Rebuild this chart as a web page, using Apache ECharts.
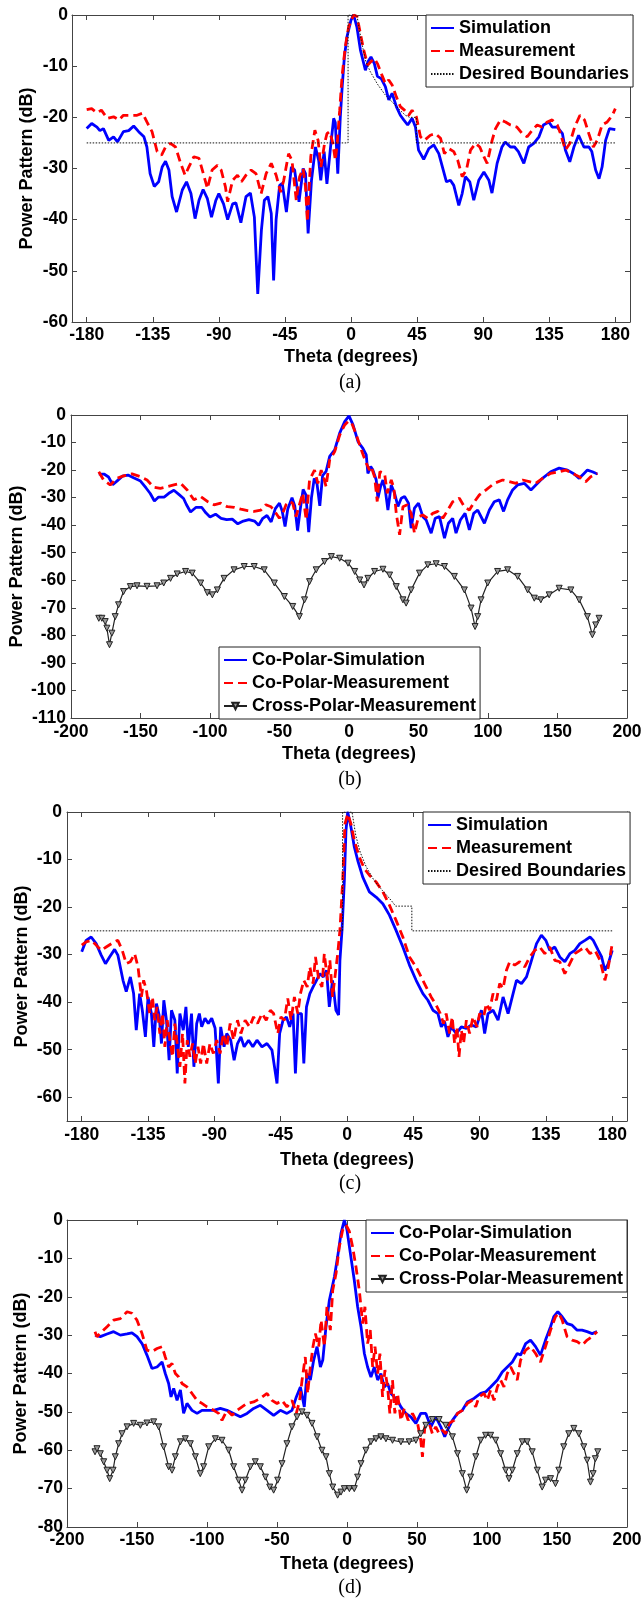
<!DOCTYPE html>
<html><head><meta charset="utf-8">
<script src="https://cdn.jsdelivr.net/npm/echarts@6/dist/echarts.min.js"></script>
<style>html,body{margin:0;padding:0;background:#fff}#c{width:642px;height:1600px}</style>
</head><body><div id="c"></div>
<script>
// ---------- tick labels ----------
const X_TICKS_45 = [-180,-135,-90,-45,0,45,90,135,180];
const Y_TICKS_C = [-60,-50,-40,-30,-20,-10,0];

// ---------- legend names ----------
const NAMES_AC = ['Simulation','Measurement','Desired Boundaries'];
const NAMES_BD = ['Co-Polar-Simulation','Co-Polar-Measurement','Cross-Polar-Measurement'];

// ---------- panel (a) ----------
const A_SIM = [[-180,-22.2],[-176.6,-21.2],[-173,-21.9],[-171,-22.6],[-168.6,-22.2],[-165,-24.5],[-161.7,-23.8],[-159,-24.8],[-155,-22.8],[-151.4,-22.6],[-148,-21.7],[-144.6,-22.8],[-141,-23.8],[-139,-25.8],[-136.8,-31],[-134,-33.5],[-131,-32.6],[-128.6,-29.7],[-126.3,-28.6],[-124,-30.3],[-121.8,-35.5],[-118.8,-38.5],[-114.9,-34.2],[-112,-32.6],[-109,-34.9],[-106.2,-39.8],[-103.5,-36.2],[-100.7,-34.1],[-97.8,-35.9],[-95,-39.5],[-92,-36.2],[-90,-34.9],[-86.8,-36.9],[-84,-40],[-80.6,-36.9],[-78.4,-36.7],[-75,-40.6],[-71.5,-35.5],[-68.5,-34.8],[-65.8,-39.5],[-63.5,-54.5],[-61,-42],[-59,-36.2],[-56.6,-35.5],[-54.3,-38.8],[-52.7,-51.9],[-51,-40],[-48.6,-33.3],[-46.8,-32.9],[-44,-38.5],[-40.6,-29.7],[-38.4,-30.3],[-35.4,-36.5],[-32.6,-30],[-31,-31],[-29.2,-42.7],[-26.9,-32.3],[-24.2,-25.8],[-22,-28.4],[-20.6,-32.3],[-18.3,-26.7],[-16.4,-33],[-14,-26],[-11.8,-20.2],[-10.7,-21],[-9,-31],[-7.3,-20],[-6,-14],[-4.5,-8.2],[-2.7,-4.2],[0,-1],[1.8,0],[4,-2.3],[6.4,-6.8],[9.8,-10.8],[11.6,-9.1],[13.6,-8.2],[15.9,-9.5],[18,-12],[20.5,-12.4],[23.4,-14],[25.7,-16.6],[28,-15.3],[30.9,-17.9],[33.6,-19.6],[35.9,-20.5],[38.6,-21.5],[41.6,-20.2],[43.9,-21.9],[46,-26.4],[49.5,-28.2],[53,-26.1],[56.4,-25.4],[59.8,-27.1],[65,-32.6],[67.7,-32.3],[70,-33.3],[73.4,-37.2],[75.7,-34.9],[77.9,-31.6],[80.9,-32.6],[83.6,-36.2],[87,-32.3],[90.5,-30.7],[93.9,-32.3],[96,-34.8],[99.5,-29],[102.8,-25.8],[105,-24.8],[108.6,-25.8],[111.4,-25.8],[114,-26.7],[117.7,-29],[121,-25.8],[124.5,-25.1],[128,-23.8],[131,-21.5],[134.8,-20.9],[137,-21.9],[140.5,-21.9],[144,-23.2],[146,-26.4],[149,-28.7],[151.8,-25.8],[155,-23.5],[158.6,-25.8],[162,-25.8],[164,-26.7],[166.6,-30.3],[168.9,-32],[171,-29.7],[173.4,-24.5],[176,-22.2],[180,-22.4]];
const A_MEAS = [[-180,-18.5],[-176.6,-18.3],[-173,-19.1],[-170,-18.6],[-166,-20.2],[-161.7,-19.9],[-158,-20.5],[-155,-19.6],[-150,-19.6],[-145.7,-19.6],[-142,-19.2],[-139,-20.9],[-135.5,-22.8],[-132,-26.7],[-129,-27.4],[-126.3,-25.8],[-122.9,-25.1],[-119.5,-25.8],[-116,-29],[-113,-31.3],[-110.4,-29.7],[-107,-27.7],[-103.5,-28],[-100,-31.6],[-97.8,-33.9],[-94.6,-30.3],[-91,-29.4],[-88.4,-30.3],[-85.5,-33.6],[-84,-36.5],[-80.6,-32.3],[-77.3,-31.3],[-74.6,-32.6],[-71.5,-31.3],[-68,-30.3],[-64.7,-31],[-61.2,-34.9],[-57.8,-31],[-54.3,-29],[-51,-31.3],[-48,-34.6],[-45.8,-32.3],[-42.5,-27.1],[-40.2,-28.4],[-37.3,-36.2],[-35,-31.6],[-32.6,-30],[-31,-33.5],[-29.7,-40.4],[-27.4,-27.7],[-24.6,-22.5],[-22.4,-24.5],[-20.5,-29.7],[-18,-25.1],[-16.4,-23.2],[-14.5,-22.8],[-12.3,-25.1],[-10.7,-28.4],[-9.5,-25.5],[-7.7,-18.6],[-6.1,-12],[-3.9,-6.2],[-1.6,-2.3],[1.8,0],[4.1,-0.3],[6.4,-3.6],[8.6,-6.8],[11.4,-9.8],[13.6,-9.1],[15.9,-8.5],[18,-9.5],[21,-11.7],[23.4,-13.4],[25.7,-12.7],[28,-13.7],[30.9,-16],[33.6,-17.9],[36.4,-18.6],[39.3,-19.6],[41.6,-18.6],[44.5,-19.9],[47.3,-23.8],[50,-24.5],[54,-23.5],[57.5,-23.2],[61,-24.1],[63.6,-27.1],[66.6,-26.1],[70,-26.7],[72.7,-28.4],[75.7,-31.6],[78.6,-30.3],[81.4,-26.4],[84.8,-25.1],[87.7,-25.8],[90.5,-27.7],[92.7,-29],[96.1,-24.5],[98.4,-22.2],[101.8,-20.5],[105.2,-20.9],[108.6,-21.5],[113,-21.9],[116.6,-23.2],[120,-23.8],[123.4,-22.5],[126.8,-21.5],[130,-21.9],[133.6,-20.9],[137,-20.5],[140.5,-21.5],[142.7,-23.2],[146,-26.4],[149,-25.1],[152.3,-21.9],[155.9,-19.6],[159,-20.5],[162,-23.2],[165,-25.8],[167.7,-24.5],[171,-21.5],[174.5,-20.9],[178,-19.6],[180,-18.3]];
const A_DESIRED = [[-180,-25],[-2,-25],[-2,0],[4,0],[7,-5],[10,-9],[13,-11],[18,-13.5],[23,-15.5],[28,-17],[33,-18.5],[37,-19.6],[40,-20],[44.5,-20],[44.5,-25],[180,-25]];

// ---------- panel (b) ----------
const B_SIM = [[-180,-21.5],[-176,-21.5],[-173,-22.5],[-170,-25.3],[-167,-24],[-163,-22.2],[-159,-21.8],[-155,-22.8],[-150,-24],[-146,-26.5],[-143,-28.5],[-140,-31.2],[-137,-29.8],[-133,-29.8],[-129,-28.2],[-126,-27.3],[-122,-29],[-119,-30.3],[-117,-32.5],[-114,-35.2],[-110,-33.5],[-106,-33.5],[-103,-35.5],[-100,-37],[-96,-36],[-92,-37.5],[-88,-38],[-84,-37.8],[-80,-39.5],[-76,-38.5],[-72,-38],[-68,-38.5],[-65,-40],[-62,-37.5],[-59,-36.5],[-56,-38.8],[-53,-34],[-50,-32],[-48,-35],[-46,-40.5],[-44,-34],[-41,-30],[-39,-33],[-37,-42],[-35,-34],[-33,-27],[-31,-29],[-29,-42.5],[-27,-30],[-25,-23],[-23,-25],[-21,-33],[-19,-22],[-16.5,-20.5],[-13.9,-15],[-10.3,-12.7],[-6.7,-6.6],[-3.1,-2.4],[0,-0.3],[2.9,-3.6],[6.5,-9.7],[10,-12.1],[12.4,-14.5],[13.6,-21.2],[15.6,-18.7],[17.2,-20],[19.6,-23.6],[20.8,-30.2],[22.7,-26],[24.4,-23.6],[26.1,-27.2],[28,-34.5],[30.4,-25.4],[32.8,-28.4],[35.2,-33.2],[37.6,-30.2],[40,-29.6],[42.8,-32],[44.7,-41.1],[47.1,-33.8],[50,-32],[53.1,-36.9],[55.5,-38.1],[59.1,-42.9],[62,-37.5],[65.1,-36.9],[68.7,-44.7],[71.5,-39.3],[74.6,-37.5],[77,-42.9],[80.1,-38.1],[83.5,-35.7],[86.6,-41.7],[89.7,-35.7],[92.6,-34.5],[97.4,-39.3],[101,-34.5],[104.5,-31.5],[108.1,-30.8],[111.2,-35],[114.1,-30.8],[117.7,-27.2],[121.3,-25.4],[126.1,-24.8],[130.9,-27.2],[134.4,-25.4],[139.2,-23],[145.1,-20.6],[151.2,-19.3],[157.2,-20],[162,-21.4],[165.6,-23],[169.1,-21.2],[171.5,-20],[175.1,-20.6],[178.7,-21.4]];
const B_MEAS = [[-180,-20.6],[-176.6,-23.6],[-171.8,-25.4],[-167,-23],[-162.2,-22.1],[-156.1,-21.4],[-150.1,-22.4],[-145.3,-23.6],[-140.5,-26.2],[-135.7,-26.6],[-130.8,-26],[-126,-25.4],[-121.2,-24.8],[-116.4,-27.2],[-111.6,-30.8],[-106.7,-29.6],[-101.9,-31.4],[-97.1,-32.6],[-92.3,-32],[-87.5,-33.3],[-82.7,-33.5],[-77.8,-34.2],[-73,-34.7],[-68.2,-35],[-63.4,-34.5],[-59.8,-32.6],[-56.1,-33.3],[-52.5,-35.7],[-50.1,-37.5],[-47.7,-35.7],[-45.3,-32.6],[-42.9,-31.4],[-40.5,-32],[-38.1,-36.9],[-35.7,-32.6],[-33.3,-28.4],[-30.8,-38.1],[-28.4,-23.6],[-24.8,-20],[-22.4,-24.8],[-20,-20],[-18,-23],[-16.5,-26],[-13.9,-16.3],[-10.3,-13.3],[-6.7,-7.3],[-3.1,-3.6],[-0.7,-2.4],[1.7,-2.6],[5.3,-7.3],[8.9,-12.7],[12.4,-17.5],[14.8,-20],[16,-18.8],[18.4,-22.4],[20.3,-31.4],[22.2,-20.6],[25.6,-21.2],[27.5,-28.4],[30.4,-23.6],[32.3,-26.6],[34,-35.7],[36.4,-43.5],[38.8,-33.3],[41.9,-32.6],[44.7,-35.7],[47.1,-42.9],[50,-36.9],[53.1,-36.3],[56.7,-37.5],[60.3,-35.7],[63.9,-35],[67.5,-37.5],[71.1,-34.5],[74.6,-31.5],[79.4,-30.2],[83,-33.3],[86.6,-34.5],[90.2,-31.5],[93.8,-29],[98.6,-27.2],[104.5,-24.8],[110.5,-23.6],[115.3,-24.2],[120.1,-24.8],[124.9,-23.6],[129.7,-24.2],[134.4,-24.8],[139.2,-23],[145.1,-21.2],[151.2,-20.6],[155.9,-20],[160.8,-21.2],[165.6,-22.4],[170.3,-24.2],[173.9,-22.4],[178.7,-21.2]];
const B_CROSS = [[-180,-73.8],[-177.8,-73.8],[-175.4,-75],[-174.2,-77.4],[-172.3,-83.4],[-170.6,-79.2],[-168.2,-73.2],[-165.8,-68.9],[-162.2,-64.1],[-157.3,-62.3],[-152.5,-62],[-145.3,-62.2],[-138.1,-62],[-133.3,-61],[-128.4,-59.3],[-123.6,-57.7],[-117.6,-56.8],[-112.8,-57.4],[-106.7,-61],[-101.9,-64.5],[-98.3,-65.3],[-94.7,-63.5],[-89.9,-59.3],[-82.7,-56.2],[-75.4,-55],[-68.2,-55],[-61,-56.2],[-53.7,-61],[-46.5,-65.9],[-40.5,-69.5],[-35.7,-73.2],[-32,-67.1],[-28.4,-60.5],[-23.6,-56.2],[-17.6,-53.2],[-12.7,-51.4],[-6.7,-52],[-0.7,-53.8],[4.1,-56.8],[7.7,-59.9],[10.8,-61.7],[13.6,-59.3],[18.4,-56.8],[24.4,-56],[29.2,-58.1],[34,-62.3],[38.8,-67.1],[41.1,-68.3],[44.7,-63.5],[50.7,-57.4],[56.7,-54.4],[62.7,-54],[68.7,-55],[75.8,-58.6],[83,-63.5],[87.8,-70.1],[90.7,-76.8],[92.6,-73.2],[95,-67.1],[99.8,-61],[106.9,-56.8],[114.1,-56.2],[121.3,-58.6],[128.5,-63.5],[133.3,-66.5],[138,-67.1],[144,-65.3],[151.2,-62.9],[159.6,-63.5],[165.6,-67.1],[171.5,-73.2],[175.1,-79.8],[177.5,-76.2],[179.9,-73.8]];

// ---------- panel (c) ----------
const C_SIM = [[-180,-29.4],[-177,-27],[-173.6,-26.3],[-170.2,-27.7],[-166.8,-30.1],[-163.9,-31.9],[-161.1,-30.5],[-157.7,-28.9],[-155.5,-30.1],[-152,-35.4],[-149.8,-37.8],[-147,-34.7],[-144.8,-38.2],[-143,-45.9],[-140.7,-38.2],[-138.9,-41.7],[-136.8,-47.3],[-135,-38.9],[-132.7,-42.4],[-131.1,-49.4],[-129.3,-40.3],[-127.5,-42.7],[-125.9,-48.7],[-124.3,-39.6],[-122.5,-43.8],[-120.7,-52.2],[-119.1,-41.7],[-116.8,-43.8],[-115.2,-55],[-113.4,-42.4],[-111.1,-45.9],[-109.3,-41],[-107.7,-49.4],[-105.5,-42.4],[-103.9,-53.6],[-102,-44.5],[-100.2,-42.4],[-98.6,-45.2],[-96.4,-43.4],[-94.1,-44.5],[-91.8,-43.4],[-89.5,-45.5],[-87.3,-57.1],[-85.7,-45.2],[-83.4,-49.4],[-81.6,-46.6],[-78.9,-48],[-76.6,-52.2],[-74.3,-48.7],[-72,-47.3],[-69.8,-49.4],[-66.8,-48],[-63.9,-49.4],[-61.1,-48],[-57.7,-49.4],[-54.3,-48.7],[-50.9,-50.1],[-47.5,-57.1],[-45.7,-46.6],[-43.4,-43.8],[-41.1,-43.1],[-38.9,-45.2],[-36.6,-42.4],[-35,-55],[-33.2,-42.4],[-30.9,-42.4],[-29.3,-52.9],[-27.5,-41],[-25.2,-38.2],[-23,-36.8],[-20.7,-35.4],[-18.4,-34],[-16.1,-34.7],[-13.9,-33.3],[-12,-41],[-9.8,-35.4],[-7.5,-41.7],[-5.7,-42.7],[-4.8,-31.2],[-3.4,-24.9],[-1.8,-14.4],[-0.7,-3.9],[0.5,0],[2.7,-3.2],[5,-7.4],[7.3,-10.2],[10.7,-13.7],[15.2,-16.8],[19.7,-17.9],[24.3,-19.3],[28.8,-21.7],[33.3,-24.9],[37.9,-28.4],[42.4,-32.2],[46.9,-35.4],[51.5,-38.2],[54.9,-39.6],[58.3,-41.7],[61.7,-42.4],[64,-45.2],[66.2,-44.1],[68.5,-47.3],[70.7,-45.2],[74.1,-46.6],[77.6,-45.2],[81,-45.5],[84.4,-44.8],[87.8,-45.2],[91.2,-41.7],[93.4,-46.6],[95.7,-42.4],[99.1,-41.7],[102.5,-43.8],[105.9,-38.9],[109.3,-42.4],[112.7,-38.2],[115,-35.4],[118.4,-36.1],[121.8,-34.7],[125.2,-31.2],[128.6,-27.7],[131.9,-25.9],[134.9,-27],[137.6,-29.1],[141,-28.4],[144.4,-30.5],[147.8,-31.5],[151.2,-29.8],[154.6,-29.1],[158,-27.7],[161.5,-27],[164.9,-26.3],[167.1,-27],[170.5,-29.1],[172.8,-30.5],[175,-33.3],[177.3,-31.9],[180,-29.1]];
const C_MEAS = [[-180,-28],[-177,-27.3],[-173.6,-27],[-170.2,-28],[-166.8,-29.1],[-163.4,-28.4],[-158.9,-27.5],[-155.5,-27],[-152.5,-29.1],[-149.8,-31.9],[-147,-31.5],[-144.1,-29.8],[-141.8,-32.6],[-139.5,-38.9],[-138,-35.4],[-136.1,-37.5],[-133.9,-42.4],[-132,-38.9],[-130.5,-43.8],[-128.9,-41],[-127,-46.6],[-125.2,-42.4],[-123.6,-49.4],[-122,-43.8],[-120.2,-48],[-118.4,-51.5],[-116.8,-44.5],[-115,-49.4],[-113.4,-53.6],[-111.6,-46.6],[-110,-57.1],[-108.4,-48],[-106.6,-51.5],[-104.8,-48.7],[-103,-52.9],[-101.1,-49.4],[-99.3,-52.9],[-97.5,-48.7],[-95.2,-52.9],[-93,-48.7],[-90.7,-50.8],[-88.4,-48],[-86.1,-50.8],[-83.9,-46.6],[-81.6,-49.4],[-79.3,-44.5],[-77,-48],[-74.3,-43.8],[-72,-46.6],[-69.1,-43.8],[-66.1,-45.2],[-63.4,-43.1],[-60.7,-44.5],[-57.7,-42.4],[-54.8,-43.8],[-52,-41.7],[-49.8,-42.4],[-47,-46.6],[-44.8,-43.1],[-42.5,-43.8],[-40.2,-39.2],[-38,-43.8],[-35.7,-38.9],[-33.4,-42.4],[-31.6,-38.2],[-29.3,-35.4],[-27,-36.8],[-25.2,-32.6],[-23,-36.1],[-21.4,-30.5],[-19.1,-35.4],[-17,-36.8],[-15.4,-29.8],[-13.2,-35.4],[-11.6,-31.2],[-9.8,-38.9],[-7.9,-34],[-6.3,-29.8],[-4.8,-24.9],[-2.9,-14.4],[-1.4,-2.5],[0.5,-0.4],[2.7,-2.5],[5,-6],[8.4,-9.5],[11.8,-11.9],[15.2,-13.3],[19.7,-14.7],[24.3,-16.8],[28.8,-19.6],[33.3,-22.8],[37.9,-26.3],[42.4,-30.5],[46.9,-32.6],[50.3,-34.7],[53.7,-36.8],[57.1,-38.9],[60.5,-40.6],[63.3,-42.4],[65.5,-44.5],[67.3,-42.4],[69.6,-46.6],[71.4,-43.1],[73,-48.7],[74.6,-45.2],[76,-51.5],[77.6,-45.9],[79.1,-48.7],[81,-43.8],[83.2,-46.6],[85.5,-43.1],[88.2,-45.2],[90,-42.4],[92.7,-43.1],[94.6,-40.3],[96.8,-41.7],[99.1,-38.2],[101.4,-39.6],[103.6,-36.1],[105.9,-37.1],[108.2,-33.3],[110.4,-31.5],[113.8,-32.2],[117.2,-31.5],[120.6,-32.6],[124,-30.5],[127.4,-29.1],[130.8,-28.4],[134.2,-29.8],[137.6,-28.4],[141,-31.2],[144.4,-31.5],[147.8,-34],[151.2,-31.9],[154.6,-29.8],[158,-29.1],[161.5,-28.4],[164.9,-29.8],[168.3,-29.1],[171.7,-31.2],[175,-35.4],[177.3,-32.6],[180,-27.7]];
const C_DESIRED = [[-180,-25],[-3,-25],[-3,0],[3.4,0],[6,-5],[9,-8.5],[13,-11.5],[18,-14.2],[24,-16.5],[30,-18.6],[33,-19.8],[44,-19.8],[44,-25],[180,-25]];

// ---------- panel (d) ----------
const D_SIM = [[-180,-30],[-176.2,-30.4],[-171.4,-29.7],[-166.7,-29.1],[-161.9,-30],[-157.1,-29.7],[-153.6,-29.4],[-150,-30.4],[-146.4,-32.2],[-142.9,-35.2],[-139.3,-38.7],[-135.7,-38.3],[-132.1,-37],[-129.8,-40],[-127.4,-42.6],[-125.7,-46.1],[-123.8,-43.9],[-121.4,-47],[-119,-44.3],[-116.7,-50.4],[-114.3,-47.8],[-110.7,-49.6],[-107.1,-50.4],[-103.6,-49.6],[-100,-49.6],[-95.2,-49.6],[-90.5,-49.1],[-85.7,-49.6],[-81,-50.4],[-76.2,-51.3],[-71.4,-50.4],[-66.7,-49.1],[-61.9,-48.3],[-57.1,-49.6],[-52.4,-50.9],[-47.6,-49.6],[-42.9,-50.4],[-39.3,-49.6],[-36.2,-46.1],[-33.3,-43.5],[-30.5,-48.7],[-28.6,-40],[-26.2,-41.7],[-23.8,-36.5],[-21.4,-33],[-19,-38.3],[-17.3,-36.5],[-15,-27.8],[-12.6,-20.9],[-9,-14.8],[-6.7,-9.6],[-4.3,-3.5],[-1.9,0],[0,-2.6],[2.4,-8.7],[5.2,-15.7],[7.6,-22.6],[10,-27.8],[12.4,-34.8],[14.7,-38.3],[17.1,-40.9],[19.5,-38.3],[21.9,-41.7],[24.2,-40],[26.6,-43.5],[29,-42.6],[31.4,-45.2],[33.7,-46.1],[36.1,-47],[38.5,-48.7],[42,-50.4],[45.6,-51.3],[49.2,-53],[52.7,-50.4],[56.3,-50.4],[59.9,-53.9],[63.4,-51.3],[67,-53.9],[69.8,-56.5],[71.7,-54.8],[75.3,-52.2],[78.9,-50.4],[82.4,-49.6],[86,-47.4],[90.7,-46.5],[95.5,-45.2],[99,-44.8],[102.6,-43.5],[107.4,-41.7],[110.9,-39.6],[114.5,-38.3],[118.1,-37],[121.6,-34.8],[124,-35.2],[127.6,-32.2],[131.1,-31.3],[134.7,-33],[138.2,-35.2],[141.8,-31.3],[145.4,-27.8],[147.7,-25.2],[150.6,-23.9],[153.7,-25.2],[157.2,-27],[160.8,-27.4],[164.4,-28.7],[167.9,-28.7],[171.5,-29.1],[175.1,-29.6],[178.6,-29.1]];
const D_MEAS = [[-180,-29.1],[-178.6,-30.4],[-175,-29.1],[-171.4,-27.8],[-166.7,-26.1],[-161.9,-25.7],[-157.1,-23.9],[-153.6,-24.3],[-150,-26.1],[-146.4,-29.6],[-142.9,-33.9],[-139.3,-34.3],[-135.7,-33.5],[-132.1,-33],[-129.8,-35.7],[-127.4,-38.3],[-125,-37.4],[-122.6,-40],[-120.2,-40.9],[-117.9,-42.6],[-114.3,-43.5],[-110.7,-45.2],[-107.1,-47],[-103.6,-47.8],[-100,-48.7],[-95.2,-49.6],[-91.7,-50.4],[-89.3,-52.2],[-85.7,-49.6],[-82.1,-50.9],[-78.6,-49.6],[-75,-48.7],[-71.4,-47.8],[-66.7,-47.4],[-61.9,-46.5],[-57.1,-45.2],[-53.6,-47],[-50,-47.8],[-46.4,-47],[-42.9,-48.7],[-39.3,-47],[-36.2,-50.4],[-33.8,-47],[-32.1,-41.7],[-29.8,-35.7],[-28.1,-45.2],[-26.2,-38.3],[-24.3,-33],[-22.6,-29.6],[-20.2,-33],[-18.5,-26.1],[-16.2,-33],[-14.3,-22.6],[-11.9,-28.7],[-10.2,-18.3],[-7.8,-13.9],[-5.5,-7],[-3.1,-2.6],[-0.7,-1.3],[1.7,-3],[4,-7],[6.4,-12.2],[8.8,-18.3],[11.2,-27],[12.8,-22.6],[14.7,-32.2],[16.6,-28.7],[18.3,-38.3],[20,-33],[21.9,-40],[23.5,-34.8],[25.4,-46.1],[27.1,-39.1],[29,-43.5],[30.6,-50.4],[32.5,-41.7],[34.2,-50.4],[36.1,-45.2],[38.5,-52.2],[40.9,-49.1],[43.7,-52.2],[46.8,-50.4],[50.4,-53],[52.7,-57.4],[53.9,-61.7],[55.6,-53.9],[58.7,-53],[61,-55.7],[63.4,-53.9],[65.8,-55.7],[68.2,-54.8],[70.5,-55.7],[72.9,-53],[76.5,-52.2],[78.9,-50.4],[82.4,-49.6],[86,-47.8],[89.5,-47],[91.9,-48.7],[94.3,-46.1],[97.9,-45.2],[100.2,-47],[102.6,-44.3],[105,-47],[107.4,-43.5],[109.7,-41.7],[112.1,-43.5],[114.5,-40],[116.9,-38.3],[119.2,-40],[121.6,-41.7],[124,-36.5],[127.6,-33.9],[131.1,-33],[134.7,-34.8],[138.2,-37],[141.8,-33],[145.4,-28.7],[148.9,-25.2],[151.3,-24.3],[153.7,-26.1],[157.2,-30.4],[160.8,-31.3],[164.4,-31.7],[167.9,-32.6],[171.5,-31.3],[175.1,-30.4],[178.6,-29.1]];
const D_CROSS = [[-180,-60.4],[-178.6,-59.6],[-176.2,-60.9],[-173.8,-63],[-171.4,-65.2],[-169.5,-67.4],[-167.1,-65.2],[-165.5,-61.7],[-163.1,-58.3],[-160.7,-55.7],[-157.1,-53.9],[-152.4,-53],[-147.6,-53.5],[-142.9,-52.9],[-138.1,-52.6],[-134.5,-53.9],[-131,-59.1],[-127.4,-64.3],[-125,-65.2],[-122.6,-61.7],[-119,-57.8],[-115.5,-57],[-111.9,-58.3],[-108.3,-61.7],[-104.8,-66.1],[-102.4,-64.3],[-98.8,-59.1],[-94,-57],[-89.3,-57.4],[-84.5,-60],[-81,-64.3],[-77.4,-67.8],[-75,-70.4],[-72.6,-67.8],[-69,-64.3],[-65.5,-63],[-61.9,-64.3],[-58.3,-67],[-55.2,-69.6],[-52.4,-70.4],[-49.5,-67.8],[-46.4,-63.5],[-42.9,-58.3],[-39.3,-53.9],[-35.7,-51.3],[-32.1,-50],[-28.6,-50.9],[-25,-53],[-21.4,-56.5],[-17.9,-60],[-15,-61.7],[-12.6,-66.1],[-10.2,-69.6],[-6.7,-71.7],[-4.3,-70.9],[-1.9,-70],[1.7,-70],[5.2,-70],[7.6,-67],[10,-63.5],[13.5,-60],[17.1,-57.8],[20.7,-57],[24.2,-56.5],[27.8,-57],[32.5,-57.4],[38.5,-57.8],[44.4,-57.8],[49.2,-57.4],[52.7,-55.7],[56.3,-53.5],[61,-52],[65.8,-52],[70.5,-53.5],[75.3,-56.5],[78.9,-60.9],[82.4,-66.1],[85.5,-70.4],[88.4,-67],[92,-61.7],[95.5,-57.4],[99,-56.1],[102.6,-56.1],[106.2,-57.4],[109.7,-60.9],[113.3,-65.2],[115.7,-67.4],[118.1,-65.2],[121.6,-60.9],[125.2,-57.8],[128.7,-57.8],[132.3,-60.4],[135.9,-65.2],[139.4,-69.6],[141.8,-67.8],[145.4,-67.4],[148.9,-68.7],[151.3,-65.2],[154.8,-59.1],[158.4,-55.7],[162,-54.3],[165.6,-55.7],[169.1,-59.1],[171.5,-62.6],[173.9,-68.3],[175.8,-66.1],[177.4,-62.2],[179.1,-60.4]];

// ---------- layout ----------
const FONT = 'Liberation Sans';
const AXC = '#444';
const panels = [
  {grid:{left:72,top:15,width:558,height:307}, x:{min:-190,max:190,custom:X_TICKS_45}, y:{min:-60,max:0,interval:10}, yGap:36, xGap:26, labM:4, cap:'(a)', capY:383,
   legend:{left:426,top:15,names:NAMES_AC}},
  {grid:{left:71,top:415,width:556,height:303}, x:{min:-200,max:200,interval:50}, y:{min:-110,max:0,interval:10}, yGap:45, xGap:27, labM:5, cap:'(b)', capY:780,
   legend:{left:219,top:647,names:NAMES_BD}},
  {grid:{left:67,top:812,width:560,height:309}, x:{min:-190,max:190,custom:X_TICKS_45}, y:{min:-65,max:0,custom:Y_TICKS_C}, yGap:36, xGap:30, labM:5, cap:'(c)', capY:1184,
   legend:{left:423,top:812,names:NAMES_AC}},
  {grid:{left:67,top:1220,width:560,height:307}, x:{min:-200,max:200,interval:50}, y:{min:-80,max:0,interval:10}, yGap:37, xGap:28, labM:4, cap:'(d)', capY:1588,
   legend:{left:366,top:1220,names:NAMES_BD}}
];

function mkAxis(kind, p, i, pos, main) {
  const c = p[kind];
  const ax = {
    type:'value', gridIndex:i, position:pos, min:c.min, max:c.max,
    axisLine:{show:true, onZero:false, lineStyle:{color:AXC, width:1}},
    splitLine:{show:false},
    axisTick:{show:true, inside:true, length:5, lineStyle:{color:AXC, width:1}},
    axisLabel:{show:main, margin:p.labM, color:'#000', fontFamily:FONT, fontWeight:'bold', fontSize:17.5}
  };
  if (c.custom) { ax.axisTick.customValues = c.custom; ax.axisLabel.customValues = c.custom; }
  else { ax.interval = c.interval; }
  if (main) {
    ax.name = kind === 'x' ? 'Theta (degrees)' : 'Power Pattern (dB)';
    ax.nameLocation = 'middle';
    ax.nameGap = kind === 'x' ? p.xGap : p.yGap;
    ax.nameTextStyle = {color:'#000', fontFamily:FONT, fontWeight:'bold', fontSize:18};
    if (kind === 'y') ax.nameMoveOverlap = false;
  }
  return ax;
}

function legendItems(names) {
  // line-only icons for the first entries, marker icon for cross-polar
  return names.map(n => n.indexOf('Cross') === 0 ? {name:n} : {name:n, itemStyle:{opacity:0}});
}

const grids = [], xAxes = [], yAxes = [], legends = [], graphics = [];
panels.forEach((p, i) => {
  grids.push(Object.assign({containLabel:false, outerBoundsMode:'none'}, p.grid));
  xAxes.push(mkAxis('x', p, i, 'bottom', true));
  xAxes.push(mkAxis('x', p, i, 'top', false));
  yAxes.push(mkAxis('y', p, i, 'left', true));
  yAxes.push(mkAxis('y', p, i, 'right', false));
  legends.push({
    left:p.legend.left, top:p.legend.top, orient:'vertical', data:legendItems(p.legend.names),
    selectedMode:false, backgroundColor:'#fff', borderColor:'#222', borderWidth:1,
    padding:[4,4,4,4], itemGap:5, itemWidth:23, itemHeight:8, borderRadius:0,
    lineStyle:{width:2},
    textStyle:{color:'#000', fontFamily:FONT, fontWeight:'bold', fontSize:18}
  });
  graphics.push({type:'text', x:350, y:p.capY, style:{text:p.cap, fontFamily:'Liberation Serif', fontSize:20, fill:'#000', align:'center', verticalAlign:'middle'}});
});

function sim(name, data, i) {
  return {type:'line', name, data, xAxisIndex:2*i, yAxisIndex:2*i, symbol:'none', showSymbol:false, clip:true,
    lineStyle:{color:'#0000ff', width:2.8}, itemStyle:{color:'#0000ff'}, z:3};
}
function meas(name, data, i) {
  return {type:'line', name, data, xAxisIndex:2*i, yAxisIndex:2*i, symbol:'none', showSymbol:false, clip:true,
    lineStyle:{color:'#ff0000', width:2.8, type:[9,5]}, itemStyle:{color:'#ff0000'}, z:4};
}
function desired(name, data, i) {
  return {type:'line', name, data, xAxisIndex:2*i, yAxisIndex:2*i, symbol:'none', showSymbol:false, clip:true,
    lineStyle:{color:'#111', width:1, type:[1.5,1.5]}, itemStyle:{color:'#111'}, z:5};
}
function cross(name, data, i) {
  return {type:'line', name, data, xAxisIndex:2*i, yAxisIndex:2*i, symbol:'triangle', symbolRotate:180, symbolSize:6, showSymbol:true, clip:true,
    lineStyle:{color:'#222', width:1.2}, itemStyle:{color:'#999', borderColor:'#222', borderWidth:1}, z:5};
}

const series = [
  sim(NAMES_AC[0], A_SIM, 0), meas(NAMES_AC[1], A_MEAS, 0), desired(NAMES_AC[2], A_DESIRED, 0),
  sim(NAMES_BD[0], B_SIM, 1), meas(NAMES_BD[1], B_MEAS, 1), cross(NAMES_BD[2], B_CROSS, 1),
  sim(NAMES_AC[0], C_SIM, 2), meas(NAMES_AC[1], C_MEAS, 2), desired(NAMES_AC[2], C_DESIRED, 2),
  sim(NAMES_BD[0], D_SIM, 3), meas(NAMES_BD[1], D_MEAS, 3), cross(NAMES_BD[2], D_CROSS, 3)
];

const chart = echarts.init(document.getElementById('c'), null, {renderer:'canvas', width:642, height:1600});
chart.setOption({
  animation:false,
  backgroundColor:'#fff',
  grid:grids, xAxis:xAxes, yAxis:yAxes, legend:legends, series, graphic:graphics
});
</script>
</body></html>
